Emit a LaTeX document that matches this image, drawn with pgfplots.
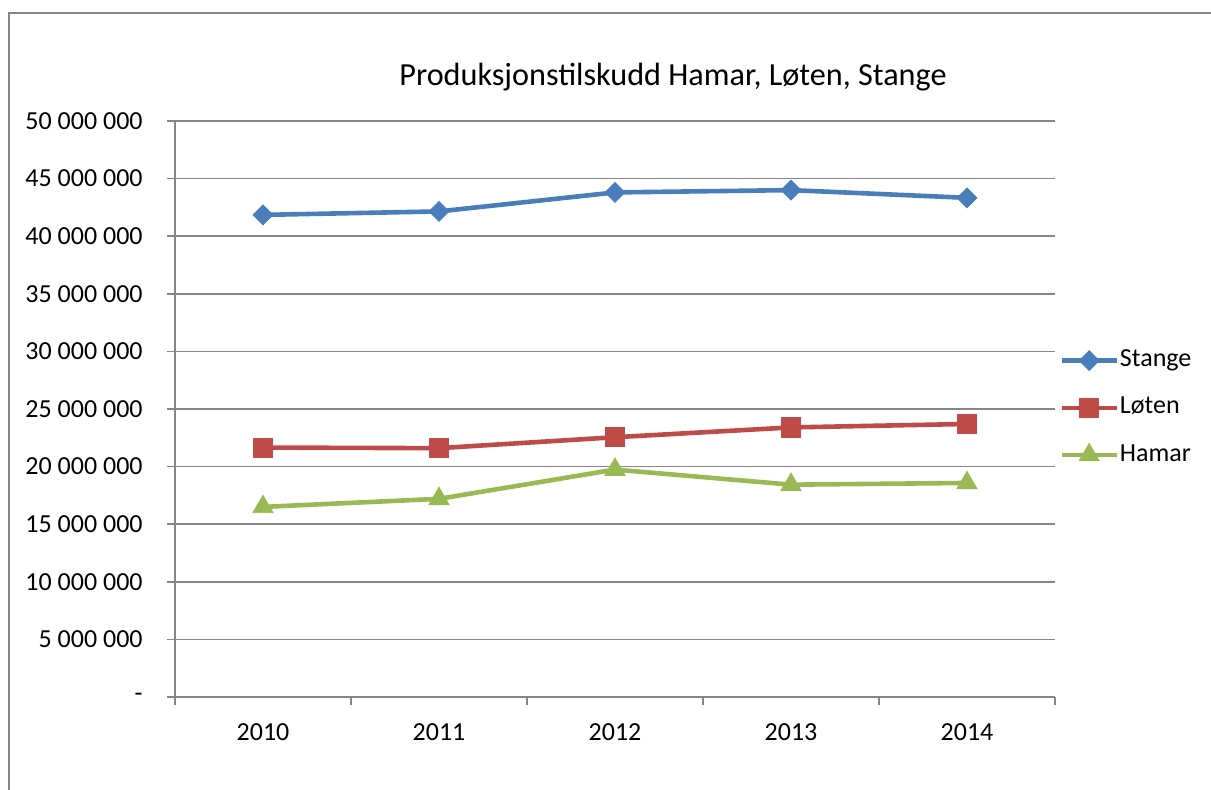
\documentclass[border=0pt]{standalone}
\usepackage{pgfplots}
\pgfplotsset{compat=1.18}
\usepackage{fontspec}
\setmainfont{Carlito}
\definecolor{cblue}{HTML}{4A7EBB}
\definecolor{cred}{HTML}{BE4B48}
\definecolor{cgreen}{HTML}{98B954}
\definecolor{cgrid}{HTML}{868686}
\begin{document}
\begin{tikzpicture}
\begin{axis}[
  scale only axis,
  width=440pt, height=288pt,
  xmin=-0.5, xmax=4.5, ymin=0, ymax=50000000,
  scaled y ticks=false,
  axis x line*=bottom, axis y line*=left,
  axis line style={cgrid, line width=0.75pt},
  tick align=outside,
  xtick={0,1,2,3,4}, xticklabels={2010,2011,2012,2013,2014},
  major x tick style={draw=none},
  minor xtick={-0.5,0.5,1.5,2.5,3.5,4.5},
  minor tick length=4pt, major tick length=4pt,
  every tick/.style={cgrid, line width=0.75pt},
  minor x tick style={cgrid, line width=0.75pt},
  ytick={0,5000000,10000000,15000000,20000000,25000000,30000000,35000000,40000000,45000000,50000000},
  yticklabels={-,5 000 000,10 000 000,15 000 000,20 000 000,25 000 000,30 000 000,35 000 000,40 000 000,45 000 000,50 000 000},
  ymajorgrids, grid style={cgrid, line width=0.75pt},
  ticklabel style={font=\fontsize{13}{15.6}\selectfont},
  yticklabel style={anchor=east, inner sep=0pt, xshift=-12pt},
  xticklabel style={anchor=north, inner sep=0pt, yshift=-9pt},
  legend style={at={(1,0.502)}, anchor=west, xshift=2pt, draw=none, fill=none, inner sep=0pt,
    row sep=10.6pt, font=\fontsize{13}{15.6}\selectfont,
    nodes={text height=9pt, text depth=3pt, inner sep=0.5pt, anchor=west}},
  legend cell align=left,
  legend image code/.code={\draw[#1, mark repeat=2, mark phase=2] plot coordinates {(0pt,0pt) (13.75pt,0pt) (27.5pt,0pt)};},
  clip=false,
]
\coordinate (O) at (rel axis cs:0,0);
\addplot[cblue, line width=2.3pt, mark=square*, mark size=3.5pt, mark options={solid, rotate=45, fill=cblue, draw=cblue, line width=0.4pt}]
  coordinates {(0,41850000) (1,42150000) (2,43800000) (3,44000000) (4,43330000)};
\addlegendentry{Stange}
\addplot[cred, line width=2.3pt, mark=square*, mark size=4.8pt, mark options={solid, fill=cred, draw=cred, line width=0.4pt}]
  coordinates {(0,21650000) (1,21600000) (2,22550000) (3,23400000) (4,23700000)};
\addlegendentry{Løten}
\addplot[cgreen, line width=2.3pt, mark=triangle*, mark size=5.8pt, mark options={solid, fill=cgreen, draw=cgreen, line width=0.4pt}]
  coordinates {(0,16500000) (1,17200000) (2,19740000) (3,18430000) (4,18580000)};
\addlegendentry{Hamar}
\end{axis}
\pgfresetboundingbox
\path[use as bounding box] ([shift={(-87.5pt,-46.5pt)}]O) rectangle ([shift={(518pt,348.5pt)}]O);
\draw[cgrid, line width=1pt] ([shift={(-83pt,-50pt)}]O) -- ([shift={(-83pt,342pt)}]O) -- ([shift={(522pt,342pt)}]O);
\node[font=\fontsize{16.1}{19}\selectfont, inner sep=0pt] at ([shift={(249pt,310pt)}]O) {Produksjonstilskudd Hamar, Løten, Stange};
\end{tikzpicture}
\end{document}
